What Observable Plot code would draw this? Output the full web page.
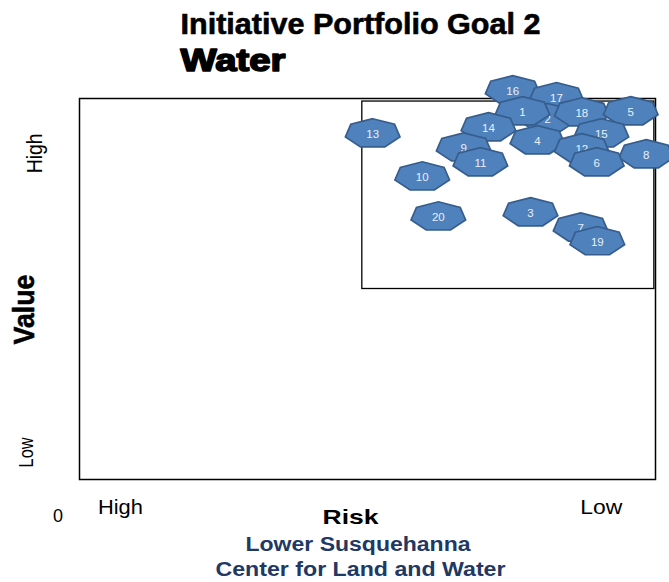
<!DOCTYPE html>
<html>
<head>
<meta charset="utf-8">
<script src="https://cdn.jsdelivr.net/npm/d3@7"></script>
<script src="https://cdn.jsdelivr.net/npm/@observablehq/plot@0.6"></script>
<style>
  body { margin: 0; background: #fff; }
</style>
</head>
<body>
<div id="chart"></div>
<script>
// Initiatives: id, risk position (left = high risk, right = low risk), value position
const ids   = [16, 17, 2, 1, 18, 5, 13, 14, 4, 15, 9, 12, 8, 11, 6, 10, 20, 3, 7, 19];
const risk  = [75.2, 82.8, 81.3, 76.9, 87.2, 95.7, 50.9, 71.0, 79.5, 90.6, 66.7, 87.2, 98.4, 69.6, 89.8, 59.5, 62.3, 78.3, 87.0, 89.9];
const value = [102.1, 100.3, 94.8, 96.6, 96.3, 96.6, 90.8, 92.4, 89.0, 90.8, 87.1, 86.9, 85.3, 83.2, 83.2, 79.5, 69.0, 70.1, 66.1, 62.5];

// High-value / low-risk quadrant
const quadrantRisk  = [49.1, 99.8];
const quadrantValue = [50, 99.2];

// Axis end labels
const riskLabels     = ["High", "Low"];
const riskPositions  = [7.1, 90.6];
const valueLabels    = ["High", "Low"];
const valuePositions = [85.6, 7.1];

const titleText    = "Initiative Portfolio Goal 2";
const subtitleText = "Water";
const xLabel       = "Risk";
const yLabel       = "Value";
const originLabel  = "0";
const captionLines = ["Lower Susquehanna", "Center for Land and Water"];

const initiatives = ids.map((id, i) => ({id, risk: risk[i], value: value[i]}));
const quadrant = [{x1: quadrantRisk[0], x2: quadrantRisk[1], y1: quadrantValue[0], y2: quadrantValue[1]}];

// Flattened heptagon used for every initiative marker
const heptagon = {
  draw(context, size) {
    const R = Math.sqrt(size / Math.PI);
    for (let i = 0; i < 7; i++) {
      const a = (2 * Math.PI * i) / 7;
      const px = R * Math.sin(a);
      const py = -R * 0.53 * Math.cos(a);
      if (i === 0) context.moveTo(px, py); else context.lineTo(px, py);
    }
    context.closePath();
  }
};

const font = "Liberation Sans, Arial, Helvetica, sans-serif";

const chart = Plot.plot({
  width: 669,
  height: 582,
  marginLeft: 79,
  marginRight: 14,
  marginTop: 98,
  marginBottom: 103,
  style: {fontFamily: font, background: "#fff", overflow: "visible", color: "#000"},
  x: {domain: [0, 100], axis: null},
  y: {domain: [0, 100], axis: null},
  marks: [
    Plot.frame({stroke: "#000", strokeWidth: 1.5}),
    Plot.rect(quadrant, {x1: "x1", x2: "x2", y1: "y1", y2: "y2", fill: "none", stroke: "#000", strokeWidth: 1.3}),
    // each marker is followed by its own number so overlaps hide labels underneath
    ...initiatives.flatMap(d => [
      Plot.dot([d], {x: "risk", y: "value", r: 28, symbol: heptagon, fill: "#4f81bd", stroke: "#365d8c", strokeWidth: 1.7}),
      Plot.text([d], {x: "risk", y: "value", text: e => String(e.id), fill: "#e9f0f9", fontSize: 11.5, dy: 1})
    ]),
    // risk axis ends
    Plot.text(riskLabels, {x: (d, i) => riskPositions[i], text: d => d, frameAnchor: "bottom", lineAnchor: "bottom", dy: 34, fontSize: 20}),
    // value axis ends
    Plot.text(valueLabels.slice(0, 1), {y: (d, i) => valuePositions[i], text: d => d, frameAnchor: "left", dx: -45, rotate: -90, fontSize: 22}),
    Plot.text(valueLabels.slice(1), {y: (d, i) => valuePositions[i + 1], text: d => d, frameAnchor: "left", dx: -53.5, rotate: -90, fontSize: 21}),
    Plot.text([yLabel], {text: d => d, frameAnchor: "left", dx: -55, dy: 20.5, rotate: -90, fontSize: 29, fontWeight: "bold", fill: "#000", stroke: "#000", strokeWidth: 0.6}),
    Plot.text([originLabel], {text: d => d, frameAnchor: "bottom-left", lineAnchor: "bottom", dx: -26.5, dy: 42, fontSize: 18}),
    Plot.text([xLabel], {text: d => d, frameAnchor: "bottom", lineAnchor: "bottom", dx: -17, dy: 44, fontSize: 21, fontWeight: "bold"}),
    Plot.text([captionLines[0]], {text: d => d, frameAnchor: "bottom", lineAnchor: "bottom", dx: -9.5, dy: 71, fontSize: 19.5, fontWeight: "bold", fill: "#1f3864"}),
    Plot.text([captionLines[1]], {text: d => d, frameAnchor: "bottom", lineAnchor: "bottom", dx: -7, dy: 96, fontSize: 19.5, fontWeight: "bold", fill: "#1f3864"}),
    // titles
    Plot.text([titleText], {text: d => d, frameAnchor: "top-left", textAnchor: "start", lineAnchor: "bottom", dx: 101, dy: -65, fontSize: 29, fontWeight: "bold", fill: "#000", stroke: "#000", strokeWidth: 0.6}),
    Plot.text([subtitleText], {text: d => d, frameAnchor: "top-left", textAnchor: "start", lineAnchor: "bottom", dx: 101, dy: -28, fontSize: 31, fontWeight: "bold", fill: "#000", stroke: "#000", strokeWidth: 1.6})
  ]
});

// Fit headline and label widths to the narrow/wide lettering of the layout
const fits = [
  {text: titleText, width: 360, rotated: false},
  {text: subtitleText, width: 105, rotated: false},
  {text: xLabel, width: 56, rotated: false},
  {text: captionLines[0], width: 225, rotated: false},
  {text: captionLines[1], width: 290, rotated: false},
  {text: "High", width: 45, rotated: false},
  {text: "Low", width: 42, rotated: false},
  {text: "High", width: 40, rotated: true},
  {text: "Low", width: 30, rotated: true},
  {text: yLabel, width: 70, rotated: true}
];
d3.select(chart).selectAll("text").each(function () {
  const rotated = (this.getAttribute("transform") || "").includes("rotate");
  const f = fits.find(f => f.text === this.textContent && f.rotated === rotated);
  if (f) {
    this.setAttribute("textLength", f.width);
    this.setAttribute("lengthAdjust", "spacingAndGlyphs");
    if (rotated) {
      // centre the fitted run on its anchor explicitly
      this.setAttribute("text-anchor", "start");
      this.setAttribute("x", -f.width / 2);
    }
  }
});

document.getElementById("chart").appendChild(chart);
</script>
</body>
</html>
